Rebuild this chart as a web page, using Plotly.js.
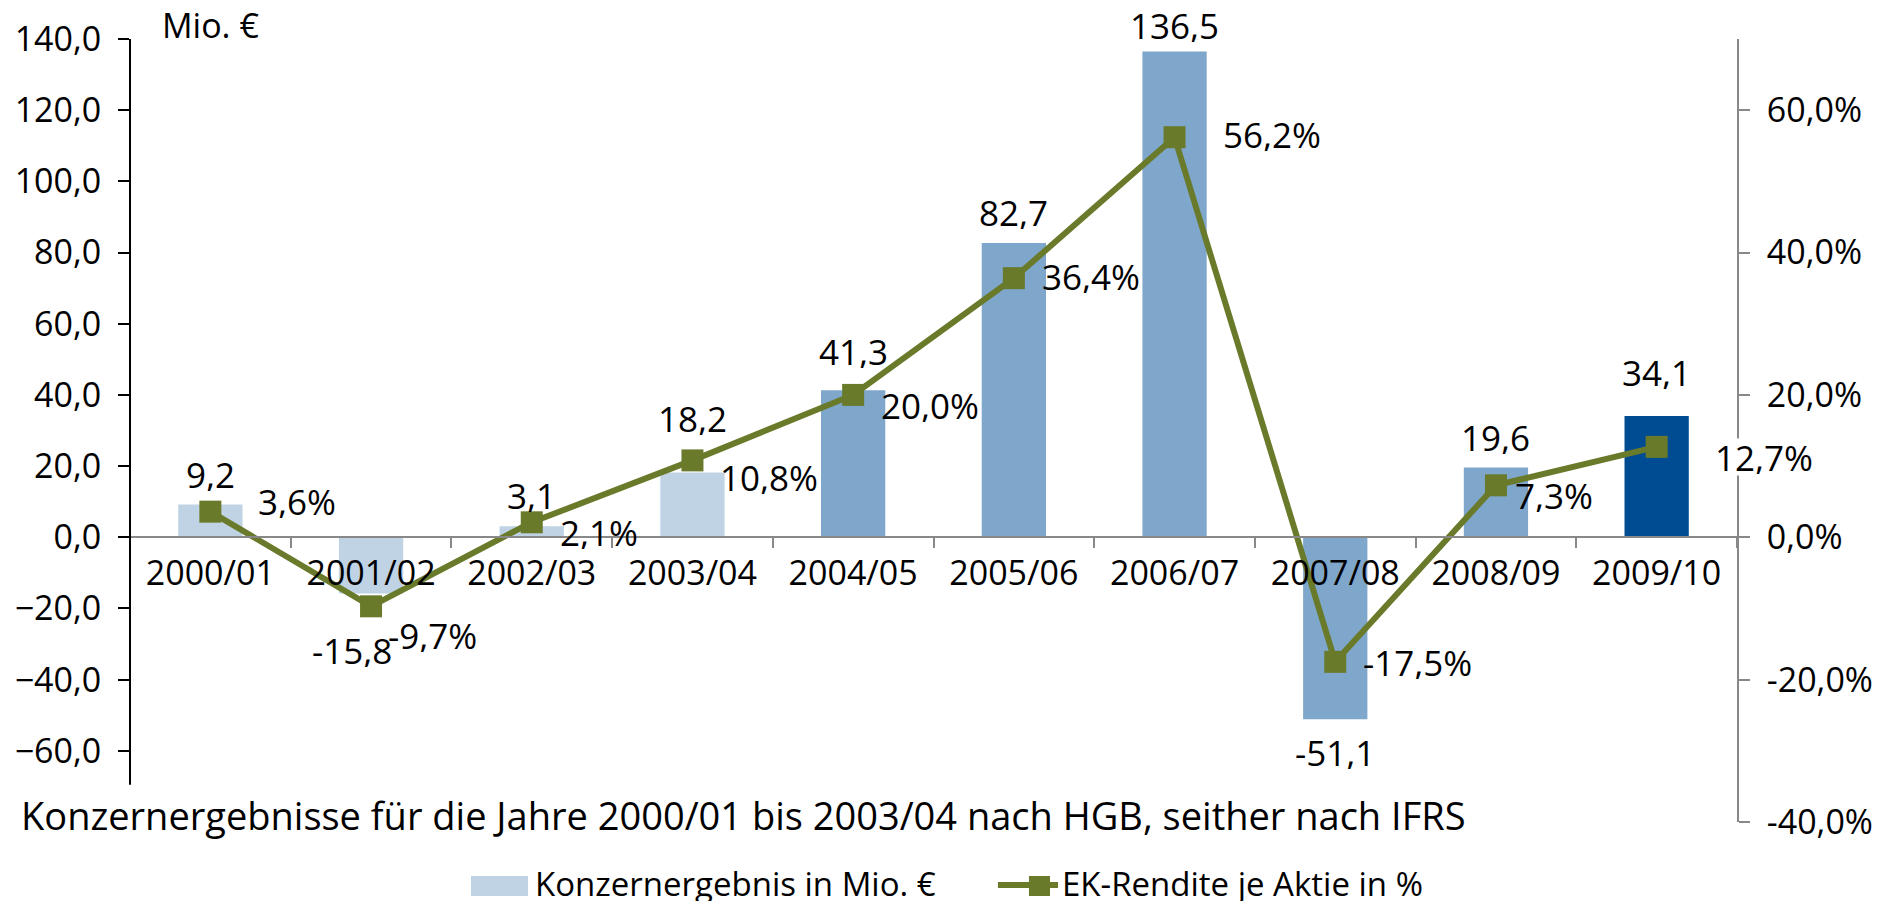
<!DOCTYPE html>
<html>
<head>
<meta charset="utf-8">
<script src="https://cdn.plot.ly/plotly-3.0.1.min.js"></script>
<style>
  html, body { margin: 0; padding: 0; background: #fff; }
  #chart { width: 1901px; height: 904px; }
</style>
</head>
<body>
<div id="chart"></div>
<script>
// Geschäftsjahre
var jahre = ["2000/01", "2001/02", "2002/03", "2003/04", "2004/05", "2005/06", "2006/07", "2007/08", "2008/09", "2009/10"];
// Konzernergebnis in Mio. €
var ergebnis = [9.2, -15.8, 3.1, 18.2, 41.3, 82.7, 136.5, -51.1, 19.6, 34.1];
// EK-Rendite je Aktie in %
var rendite = [3.6, -9.7, 2.1, 10.8, 20.0, 36.4, 56.2, -17.5, 7.3, 12.7];
var linksTicks = [-60, -40, -20, 0, 20, 40, 60, 80, 100, 120, 140];
var rechtsTicks = [-40, -20, 0, 20, 40, 60];
var nameBalken = "Konzernergebnis in Mio. €";
var nameLinie = "EK-Rendite je Aktie in %";

var FONT = "Open Sans, sans-serif";
var OLIV = "#6a7a2b";
var HELL = "#c0d3e5";

// im Original von Hand verschobene Beschriftungen (Pixel: [rechts, hoch])
var versatzBalken = { "2001/02": [-19, -23], "2003/04": [0, 24], "2004/05": [0, 8], "2006/07": [0, -5], "2009/10": [0, 13] };
var versatzLinie = {
  "2000/01": [20, 21], "2001/02": [-11, -19], "2003/04": [0, -7], "2005/06": [0, 12],
  "2006/07": [20, 13], "2007/08": [0, 10], "2008/09": [-9, 0], "2009/10": [30, 0],
};
// diese Beschriftung liegt auf der rechten Achse und wird weiss hinterlegt
var freistellen = { "2009/10": true };

function komma(v) {
  return v.toFixed(1).replace(".", ",");
}

// HGB-Jahre hell, IFRS-Jahre mittel, letztes Jahr dunkel
var farben = [];
for (var i = 0; i < jahre.length; i++) {
  if (i < 4) farben.push(HELL);
  else if (i < jahre.length - 1) farben.push("#7fa6cb");
  else farben.push("#004c93");
}

var balken = {
  type: "bar",
  name: nameBalken,
  x: jahre,
  y: ergebnis,
  marker: { color: farben },
  hoverinfo: "skip",
};

var linie = {
  type: "scatter",
  mode: "lines+markers",
  name: nameLinie,
  x: jahre,
  y: rendite,
  yaxis: "y2",
  line: { color: OLIV, width: 6 },
  marker: { color: OLIV, symbol: "square", size: 22 },
  cliponaxis: false,
  hoverinfo: "skip",
};

var notizen = [];
for (var i = 0; i < jahre.length; i++) {
  var pos = ergebnis[i] >= 0;
  var vb = versatzBalken[jahre[i]] || [0, 0];
  var vl = versatzLinie[jahre[i]] || [0, 0];
  notizen.push({
    x: jahre[i], y: ergebnis[i], xref: "x", yref: "y",
    text: komma(ergebnis[i]), showarrow: false,
    xanchor: "center", yanchor: pos ? "bottom" : "top",
    height: 34,
    xshift: vb[0],
    yshift: (pos ? 12 : -14) + vb[1],
    font: { family: FONT, size: 35, color: "#000" },
  });
  notizen.push({
    x: jahre[i], y: rendite[i], xref: "x", yref: "y2",
    text: komma(rendite[i]) + "%", showarrow: false,
    xanchor: "left", yanchor: "middle",
    height: 34,
    bgcolor: freistellen[jahre[i]] ? "#fff" : "rgba(0,0,0,0)",
    xshift: 26 + vl[0], yshift: -10 + vl[1],
    font: { family: FONT, size: 35, color: "#000" },
  });
}
notizen.push({
  x: 0.0187, y: 1.018, xref: "paper", yref: "paper",
  text: "Mio. €", showarrow: false, xanchor: "left", yanchor: "middle",
  font: { family: FONT, size: 34, color: "#000" },
});
notizen.push({
  x: -0.069, y: 0.009, xref: "paper", yref: "paper",
  text: "Konzernergebnisse für die Jahre 2000/01 bis 2003/04 nach HGB, seither nach IFRS",
  showarrow: false, xanchor: "left", yanchor: "middle",
  font: { family: FONT, size: 38, color: "#000" },
});
// Legende von Hand, damit die Symbole so breit wie im Original werden
notizen.push({
  x: 0.2505, y: -0.0785, xref: "paper", yref: "paper",
  text: nameBalken, showarrow: false, xanchor: "left", yanchor: "middle",
  height: 36,
  font: { family: FONT, size: 33, color: "#000" },
});
notizen.push({
  x: 0.5790, y: -0.0785, xref: "paper", yref: "paper",
  text: nameLinie, showarrow: false, xanchor: "left", yanchor: "middle",
  height: 36,
  font: { family: FONT, size: 33, color: "#000" },
});

var rechtsText = rechtsTicks.map(function (v) { return komma(v) + "%"; });

var layout = {
  width: 1901,
  height: 904,
  margin: { l: 130, r: 164, t: 39, b: 82, autoexpand: false },
  paper_bgcolor: "#fff",
  plot_bgcolor: "#fff",
  separators: ",.",
  font: { family: FONT, size: 34, color: "#000" },
  bargap: 0.6,
  showlegend: false,
  xaxis: {
    type: "category",
    range: [-0.5, jahre.length - 0.5],
    anchor: "free",
    position: 80 / 220,
    showline: true,
    linecolor: "#888",
    linewidth: 2,
    ticks: "outside",
    tickson: "boundaries",
    ticklen: 10,
    tickwidth: 2,
    tickcolor: "#888",
    ticklabelstandoff: 6,
    showgrid: false,
    zeroline: false,
    tickfont: { family: FONT, size: 34, color: "#000" },
  },
  yaxis: {
    range: [-80, 140],
    tickvals: linksTicks,
    tickformat: ".1f",
    showline: false,
    ticks: "outside",
    ticklen: 11,
    tickwidth: 2,
    tickcolor: "#000",
    ticklabelstandoff: 10,
    showgrid: false,
    zeroline: false,
    tickfont: { family: FONT, size: 34, color: "#000" },
  },
  yaxis2: {
    overlaying: "y",
    side: "right",
    range: [-40, 70],
    tickmode: "array",
    tickvals: rechtsTicks,
    ticktext: rechtsText,
    showline: true,
    linecolor: "#888",
    linewidth: 2,
    ticks: "outside",
    ticklen: 11,
    tickwidth: 2,
    tickcolor: "#888",
    ticklabelstandoff: 10,
    showgrid: false,
    zeroline: false,
    tickfont: { family: FONT, size: 34, color: "#000" },
  },
  shapes: [
    // linke Achse reicht nur bis knapp unter -60
    { type: "line", xref: "paper", yref: "y", x0: 0, x1: 0, y0: -69.5, y1: 140,
      line: { color: "#000", width: 2 } },
    // Legendensymbole
    { type: "rect", xref: "paper", yref: "paper", x0: 0.2122, x1: 0.2477, y0: -0.0945, y1: -0.0690,
      fillcolor: HELL, line: { width: 0 } },
    { type: "line", xref: "paper", yref: "paper", x0: 0.5401, x1: 0.5775, y0: -0.0805, y1: -0.0805,
      line: { color: OLIV, width: 6 } },
    { type: "rect", xref: "paper", yref: "paper", x0: 0.5594, x1: 0.5725, y0: -0.0945, y1: -0.0690,
      fillcolor: OLIV, line: { width: 0 } },
  ],
  annotations: notizen,
};

Plotly.newPlot("chart", [balken, linie], layout, { displayModeBar: false, staticPlot: true });
</script>
</body>
</html>
